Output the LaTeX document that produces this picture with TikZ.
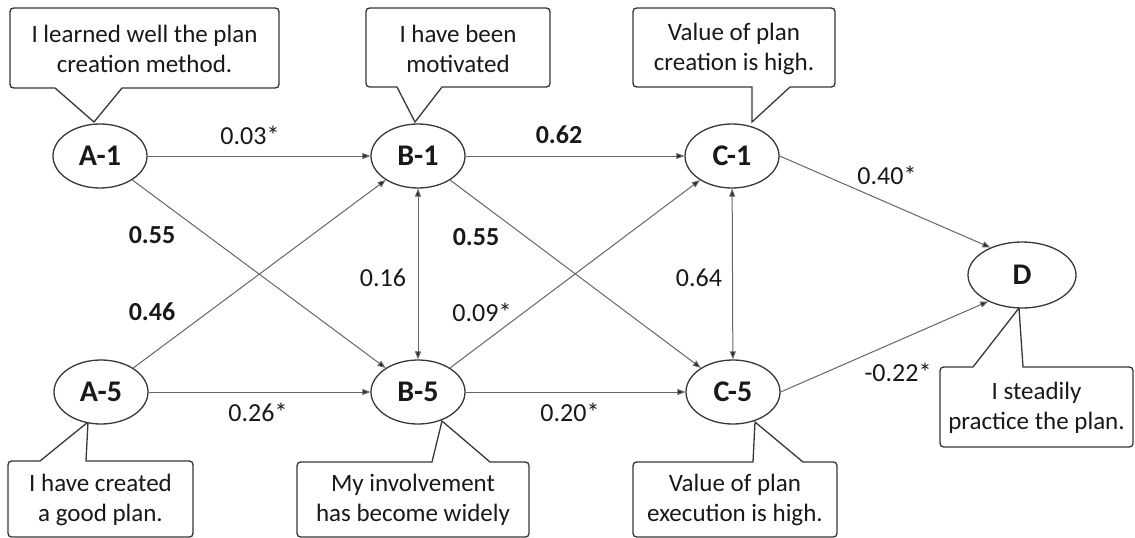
\documentclass[tikz,border=0pt]{standalone}
\usepackage{fontspec}
\setmainfont{Carlito}
\usetikzlibrary{shapes.geometric,arrows.meta}

% Rounded box whose pointer hangs from the bottom edge:
% #1 left, #2 top, #3 right, #4 bottom, #5/#6 pointer base, #7 pointer tip
\newcommand{\calloutbelow}[7]{%
  \draw[callout] ({#1+8},#2) -- ({#3-8},#2) .. controls (#3,#2) .. (#3,{#2+8})
    -- (#3,{#4-8}) .. controls (#3,#4) .. ({#3-8},#4)
    -- (#6,#4) -- #7 -- (#5,#4)
    -- ({#1+8},#4) .. controls (#1,#4) .. (#1,{#4-8})
    -- (#1,{#2+8}) .. controls (#1,#2) .. ({#1+8},#2) -- cycle;}
% Rounded box whose pointer rises from the top edge
\newcommand{\calloutabove}[7]{%
  \draw[callout] ({#1+8},#2) -- (#5,#2) -- #7 -- (#6,#2)
    -- ({#3-8},#2) .. controls (#3,#2) .. (#3,{#2+8})
    -- (#3,{#4-8}) .. controls (#3,#4) .. ({#3-8},#4)
    -- ({#1+8},#4) .. controls (#1,#4) .. (#1,{#4-8})
    -- (#1,{#2+8}) .. controls (#1,#2) .. ({#1+8},#2) -- cycle;}

\begin{document}
\begin{tikzpicture}[x=1pt,y=-1pt,
  latent/.style={ellipse, draw=black!78, line width=1.3pt, fill=white,
    minimum width=94pt, minimum height=64pt, inner sep=0pt,
    text=black!90, font=\fontsize{30}{32}\selectfont\bfseries},
  callout/.style={draw=black!78, line width=1.3pt, fill=white, line join=miter},
  calltext/.style={align=center, text=black!90, inner sep=0pt,
    font=\fontsize{25}{30}\selectfont},
  lbl/.style={text=black!90, inner sep=0pt, font=\fontsize{26}{30}\selectfont},
  blbl/.style={lbl, font=\fontsize{26}{30}\selectfont\bfseries},
  pth/.style={draw=black!60, line width=1pt, -{Triangle[length=8pt,width=6pt,fill=black!85]}},
  cov/.style={draw=black!60, line width=1pt,
    {Triangle[length=8pt,width=6pt,fill=black!85]}-{Triangle[length=8pt,width=6pt,fill=black!85]}}
]
\useasboundingbox (0,0) rectangle (1135,538);
\fill[white] (0,0) rectangle (1135,538);

% speech boxes
\calloutbelow{10}{8}{279}{88}{55}{122}{(94,122)}
\node[calltext] (tA1) at (144.5,49) {I learned well the plan\\creation method.};
\calloutbelow{366}{8}{550}{87}{397}{442}{(415,122)}
\node[calltext] (tB1) at (458,48.5) {I have been\\motivated};
\calloutbelow{633}{8}{835}{87}{752}{790}{(752,122)}
\node[calltext] (tC1) at (734,48.5) {Value of plan\\creation is high.};
\calloutabove{8}{461}{193}{537}{40}{86}{(88,422)}
\node[calltext] (tA5) at (100.5,500) {I have created\\a good plan.};
\calloutabove{297}{462}{529}{537}{432}{490}{(442,421)}
\node[calltext] (tB5) at (413,500) {My involvement\\has become widely};
\calloutabove{633}{462}{837}{537}{753}{803}{(755,422)}
\node[calltext] (tC5) at (735,500) {Value of plan\\execution is high.};
\calloutabove{940}{367}{1133}{447}{973}{1023}{(1019,308)}
\node[calltext] (tD) at (1036.5,408) {I steadily\\practice the plan.};

% latent variables
\node[latent] (A1) at (100,156) {A-1};
\node[latent] (B1) at (418,156) {B-1};
\node[latent] (C1) at (732,156) {C-1};
\node[latent] (A5) at (101,392) {A-5};
\node[latent] (B5) at (418,392) {B-5};
\node[latent] (C5) at (733,392) {C-5};
\node[latent, minimum width=108pt, minimum height=66pt] (D) at (1022,275) {D};

% paths
\draw[pth] (A1) -- (B1);
\draw[pth] (A1) -- (B5);
\draw[pth] (A5) -- (B1);
\draw[pth] (A5) -- (B5);
\draw[pth] (B1) -- (C1);
\draw[pth] (B1) -- (C5);
\draw[pth] (B5) -- (C1);
\draw[pth] (B5) -- (C5);
\draw[cov] (B1) -- (B5);
\draw[cov] (C1) -- (C5);
\draw[pth] (C1.east) -- (D.139);
\draw[pth] (C5.east) -- (D.218);

% coefficients
\node[lbl]  (k1)  at (250,135) {0.03*};
\node[blbl] (k2)  at (152,235) {0.55};
\node[blbl] (k3)  at (152,312) {0.46};
\node[lbl]  (k4)  at (258,412) {0.26*};
\node[lbl]  (k5)  at (383,278) {0.16};
\node[blbl] (k6)  at (559,135) {0.62};
\node[blbl] (k7)  at (476,237) {0.55};
\node[lbl]  (k8)  at (482,312) {0.09*};
\node[lbl]  (k9)  at (570,412) {0.20*};
\node[lbl]  (k10) at (699,278) {0.64};
\node[lbl]  (k11) at (887,175) {0.40*};
\node[lbl]  (k12) at (898,372) {-0.22*};
\end{tikzpicture}
\end{document}
